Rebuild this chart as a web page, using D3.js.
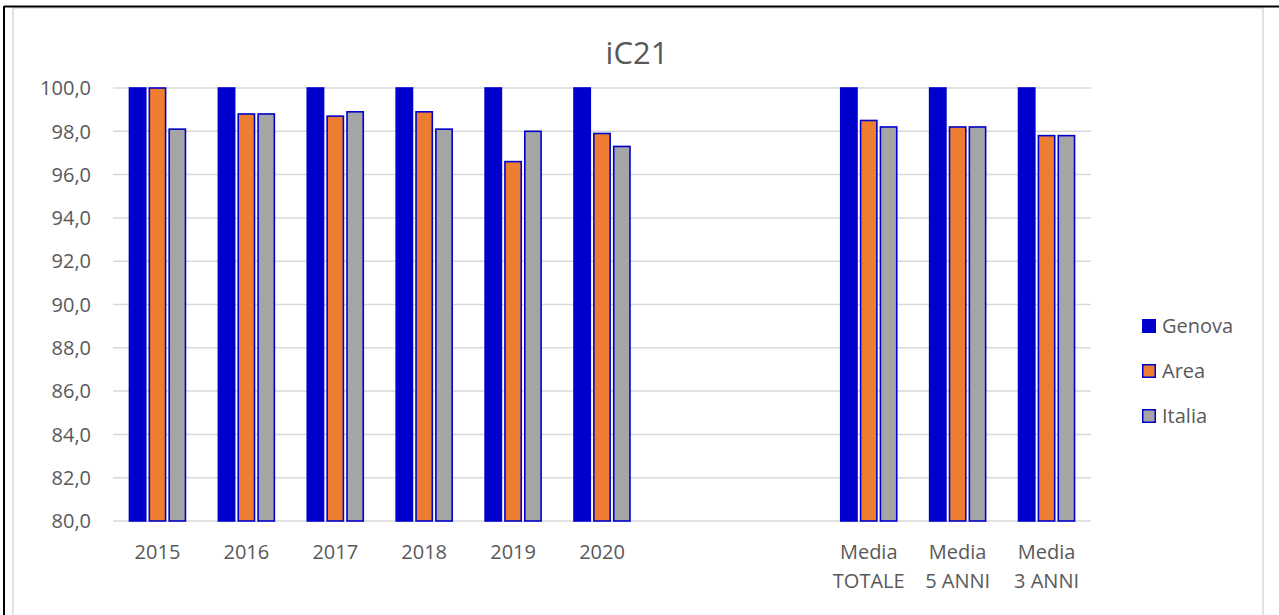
<!DOCTYPE html>
<html>
<head>
<meta charset="utf-8">
<script src="https://cdn.jsdelivr.net/npm/d3@7"></script>
<style>
  body { margin: 0; background: #fff; }
  svg { display: block; }
  text { font-family: "Open Sans", "Noto Sans", sans-serif; fill: #595959; }
</style>
</head>
<body>
<div id="vis"></div>
<script>
// dati
const categories = ["2015", "2016", "2017", "2018", "2019", "2020", "vuoto1", "vuoto2", "Media TOTALE", "Media 5 ANNI", "Media 3 ANNI"];
const catLabels = [["2015"], ["2016"], ["2017"], ["2018"], ["2019"], ["2020"], [], [], ["Media", "TOTALE"], ["Media", "5 ANNI"], ["Media", "3 ANNI"]];
const seriesNames = ["Genova", "Area", "Italia"];
const genova = [100, 100, 100, 100, 100, 100, null, null, 100, 100, 100];
const area = [100.0, 98.8, 98.7, 98.9, 96.6, 97.9, null, null, 98.5, 98.2, 97.8];
const italia = [98.1, 98.8, 98.9, 98.1, 98.0, 97.3, null, null, 98.2, 98.2, 97.8];
const yTicks = [80, 82, 84, 86, 88, 90, 92, 94, 96, 98, 100];

const colors = { Genova: "#0000CC", Area: "#ED7D31", Italia: "#A5A5A5" };
const WIDTH = 1279, HEIGHT = 615;

const svg = d3.select("#vis").append("svg").attr("width", WIDTH).attr("height", HEIGHT);

// cornice
svg.append("rect").attr("x", 13).attr("y", 8).attr("width", 1250).attr("height", 620)
  .attr("fill", "#fff").attr("stroke", "#d9d9d9").attr("stroke-width", 1.5);
svg.append("line").attr("x1", 4).attr("y1", 6.5).attr("x2", WIDTH).attr("y2", 6.5)
  .attr("stroke", "#000").attr("stroke-width", 2);
svg.append("line").attr("x1", 4).attr("y1", 6).attr("x2", 4).attr("y2", HEIGHT)
  .attr("stroke", "#000").attr("stroke-width", 2);

const x = d3.scaleBand().domain(categories).range([113, 1091]).paddingInner(0).paddingOuter(0);
const y = d3.scaleLinear().domain([80, 100]).range([521, 88]);
const xSub = d3.scaleBand().domain(seriesNames)
  .range([x.bandwidth() / 2 - 28, x.bandwidth() / 2 + 28])
  .paddingInner(0.18).paddingOuter(0);

// griglia
svg.append("g").selectAll("line").data(yTicks).join("line")
  .attr("x1", 113).attr("x2", 1091)
  .attr("y1", d => y(d)).attr("y2", d => y(d))
  .attr("stroke", "#d9d9d9").attr("stroke-width", 1.5);

// etichette asse y
svg.append("g").selectAll("text").data(yTicks).join("text")
  .attr("x", 91).attr("y", d => y(d)).attr("dy", "0.36em")
  .attr("text-anchor", "end").style("font-size", "20px")
  .text(d => d3.format(".1f")(d).replace(".", ","));

// barre
const rows = [];
categories.forEach((c, i) => {
  [genova, area, italia].forEach((arr, j) => {
    if (arr[i] != null) rows.push({ cat: c, serie: seriesNames[j], value: arr[i] });
  });
});

svg.append("g").selectAll("rect").data(rows).join("rect")
  .attr("x", d => x(d.cat) + xSub(d.serie))
  .attr("width", xSub.bandwidth())
  .attr("y", d => y(Math.min(d.value, 100)))
  .attr("height", d => y(80) - y(Math.min(d.value, 100)))
  .attr("fill", d => colors[d.serie])
  .attr("stroke", "#0000CC").attr("stroke-width", 1.6);

// etichette asse x
const xl = svg.append("g").selectAll("text").data(categories).join("text")
  .attr("x", d => x(d) + x.bandwidth() / 2)
  .attr("y", 559)
  .attr("text-anchor", "middle").style("font-size", "20px");
xl.selectAll("tspan").data((d, i) => catLabels[i]).join("tspan")
  .attr("x", function () { return d3.select(this.parentNode).attr("x"); })
  .attr("dy", (d, i) => i === 0 ? 0 : 29)
  .text(d => d);

// titolo
svg.append("text").attr("x", 637).attr("y", 64).attr("text-anchor", "middle")
  .style("font-size", "31px").text("iC21");

// legenda
const legY = [326, 371, 416];
const leg = svg.append("g").selectAll("g").data(seriesNames).join("g")
  .attr("transform", (d, i) => `translate(1142,${legY[i]})`);
leg.append("rect").attr("x", 0.75).attr("y", -6.25).attr("width", 12.5).attr("height", 12.5)
  .attr("fill", d => colors[d]).attr("stroke", "#0000CC").attr("stroke-width", 1.5);
leg.append("text").attr("x", 20).attr("dy", "0.36em").style("font-size", "20px").text(d => d);
</script>
</body>
</html>
